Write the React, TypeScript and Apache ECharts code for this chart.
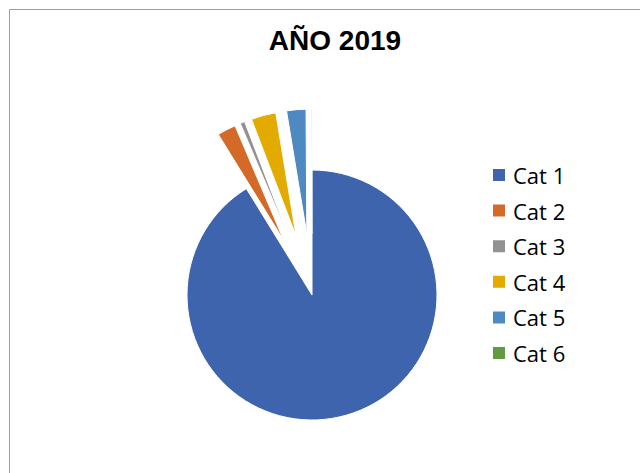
import React, { useEffect, useRef } from "react";
import * as echarts from "echarts";

const titleText = "AÑO 2019";
const categories = ["Cat 1", "Cat 2", "Cat 3", "Cat 4", "Cat 5", "Cat 6"];
const values = [91.2, 2.4, 0.6, 3.2, 2.5, 0.1];
const colors = ["#3D64AD", "#D56A28", "#929292", "#E3AA00", "#4F89C1", "#629B3F"];
const exploded = [false, true, true, true, true, true];

export default function App() {
  const ref = useRef<HTMLDivElement>(null);
  useEffect(() => {
    if (!ref.current) return;
    const chart = echarts.init(ref.current, null, { renderer: "svg" });
    chart.setOption({
      animation: false,
      backgroundColor: "#ffffff",
      color: colors,
      legend: {
        orient: "vertical",
        left: 491,
        top: 164,
        padding: 0,
        itemWidth: 14,
        itemHeight: 14,
        itemGap: 13.6,
        icon: "rect",
        selectedMode: false,
        data: categories,
        textStyle: {
          fontFamily: "Open Sans",
          fontSize: 22,
          color: "#000000",
          lineHeight: 22,
          padding: [0, 0, 0, 2],
        },
      },
      graphic: [
        {
          type: "polyline",
          shape: { points: [[9.5, 700], [9.5, 9.5], [900, 9.5]] },
          style: { stroke: "#9E9E9E", lineWidth: 1, fill: "none" },
          silent: true,
        },
        {
          type: "text",
          x: 335,
          y: 40,
          style: {
            text: titleText,
            fontFamily: "Liberation Sans",
            fontWeight: "bold",
            fontSize: 28,
            fill: "#000000",
            textAlign: "center",
            textVerticalAlign: "middle",
          },
        },
      ],
      series: [
        {
          type: "pie",
          center: [312, 295],
          radius: 125,
          startAngle: 90,
          clockwise: true,
          selectedMode: "multiple",
          selectedOffset: 61,
          label: { show: false },
          labelLine: { show: false },
          emphasis: { disabled: true },
          itemStyle: { borderColor: "#ffffff", borderWidth: 1 },
          data: categories.map((c, i) => ({
            name: c,
            value: values[i],
            selected: exploded[i],
          })),
        },
      ],
    });
    return () => chart.dispose();
  }, []);
  return (
    <div
      ref={ref}
      style={{ position: "absolute", left: 0, top: 0, width: 640, height: 473 }}
    />
  );
}
